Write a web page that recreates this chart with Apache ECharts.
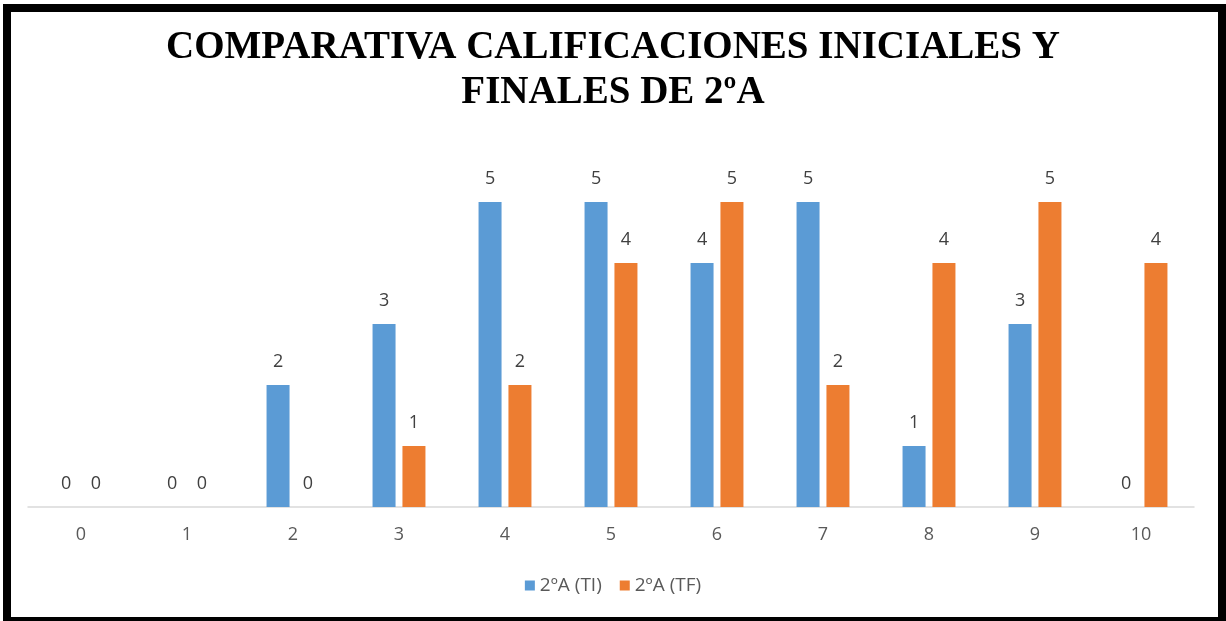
<!DOCTYPE html>
<html>
<head>
<meta charset="utf-8">
<script src="https://cdn.jsdelivr.net/npm/echarts@6/dist/echarts.min.js"></script>
<style>
html,body{margin:0;padding:0;background:#fff;}
#c{width:1226px;height:621px;}
</style>
</head>
<body>
<div id="c"></div>
<script>
const categories = ['0','1','2','3','4','5','6','7','8','9','10'];
const seriesTI = [0,0,2,3,5,5,4,5,1,3,0];
const seriesTF = [0,0,0,1,2,4,5,2,4,5,4];
const seriesNames = ['2ºA (TI)','2ºA (TF)'];
const titleText = 'COMPARATIVA CALIFICACIONES INICIALES Y\nFINALES DE 2ºA';

const chart = echarts.init(document.getElementById('c'), null, {renderer:'canvas'});
const labelStyle = {show:true, position:'top', distance:14, color:'#404040', fontSize:18, fontFamily:'Open Sans'};
chart.setOption({
  animation:false,
  backgroundColor:'#fff',
  title:{
    text:titleText, left:'center', top:20,
    textStyle:{fontFamily:'Liberation Serif', fontWeight:'bold', fontSize:39, lineHeight:45, color:'#000'}
  },
  legend:{
    bottom:21, left:'center', itemWidth:10, itemHeight:10, itemGap:18, icon:'rect',
    textStyle:{color:'#595959', fontSize:19, fontFamily:'Open Sans'},
    data:seriesNames
  },
  grid:{left:28, right:32, top:202, bottom:114},
  xAxis:{
    type:'category', data:categories,
    axisLine:{lineStyle:{color:'#d9d9d9', width:1.5}},
    axisTick:{show:false},
    axisLabel:{color:'#595959', fontSize:18, fontFamily:'Open Sans', margin:19}
  },
  yAxis:{type:'value', min:0, max:5, show:false, splitLine:{show:false}},
  series:[
    {name:seriesNames[0], type:'bar', data:seriesTI, barWidth:23, barGap:'30%', itemStyle:{color:'#5B9BD5'}, label:labelStyle},
    {name:seriesNames[1], type:'bar', data:seriesTF, barWidth:23, itemStyle:{color:'#ED7D31'}, label:labelStyle}
  ],
  graphic:[{type:'rect', shape:{x:7, y:8, width:1215, height:613}, style:{fill:'none', stroke:'#000', lineWidth:8}, z:100}]
});
</script>
</body>
</html>
